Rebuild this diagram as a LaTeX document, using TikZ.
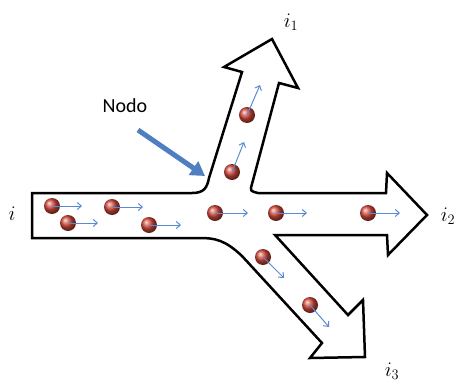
\documentclass[tikz,border=0pt]{standalone}
\usepackage{amsmath,amssymb}
\usepackage{fontspec}
\newfontfamily\calibri{Carlito}
\usetikzlibrary{arrows.meta,calc}
\usepackage{xcolor}
\definecolor{bolarojo}{HTML}{D4493A}
\definecolor{flechaazul}{HTML}{5A8AD2}
\definecolor{nodoazul}{HTML}{4F7FC0}

\begin{document}
\begin{tikzpicture}[x=1pt, y=-1pt, >=Stealth,
    flecha/.style={draw=flechaazul, line width=1pt, -{Straight Barb[length=4pt,width=7pt]}},
    etiqueta/.style={font=\fontsize{22}{26}\selectfont, inner sep=0pt}]
    \useasboundingbox (0,0) rectangle (458,383);

    % Outline of the pipe
    \draw[line width=2.5pt, line join=miter]
        (32,193) -- (192,193) .. controls (204,193) and (207,188) .. (209,178)
        -- (242,72) -- (224,67) -- (272,39) -- (298,88) -- (279,83)
        -- (252,184) .. controls (250,191) .. (258,193)
        -- (386,193) -- (387,173) -- (427,215) -- (388,255) -- (387,235)
        -- (275,235) -- (348,315) -- (363,300) -- (365,357) -- (310,358) -- (322,343)
        -- (242,256) .. controls (225,240) and (215,238) .. (200,238)
        -- (32,238) -- cycle;

    % Particles
    \foreach \bx/\by/\ex/\ey in {52/206/82/206, 68/223/98/223, 112/207/143/207,
        149/225/181/225, 215/213/248/213, 276/213/307/213, 368/213/400/213,
        232/172/244/142, 247/115/260/85, 263/257/284/278, 310/305/329/327}{
        \shade[ball color=bolarojo] (\bx,\by) circle (8pt);
        \draw[flecha] (\bx,\by) -- (\ex,\ey);
    }

    % Nodo label and pointer
    \node[font=\calibri\fontsize{20}{24}\selectfont, inner sep=0pt] (nodo) at (125,106) {Nodo};
    \coordinate (cola) at (138,130);
    \coordinate (union) at (205,176);
    \draw[nodoazul, line width=5pt, -{Triangle[length=14pt,width=16pt]}] (cola) -- (union);

    % Currents
    \node[etiqueta] (i) at (12,214) {$i$};
    \node[etiqueta] (i1) at (291,22) {$i_1$};
    \node[etiqueta] (i2) at (448,216) {$i_2$};
    \node[etiqueta] (i3) at (392,371) {$i_3$};
\end{tikzpicture}
\end{document}
